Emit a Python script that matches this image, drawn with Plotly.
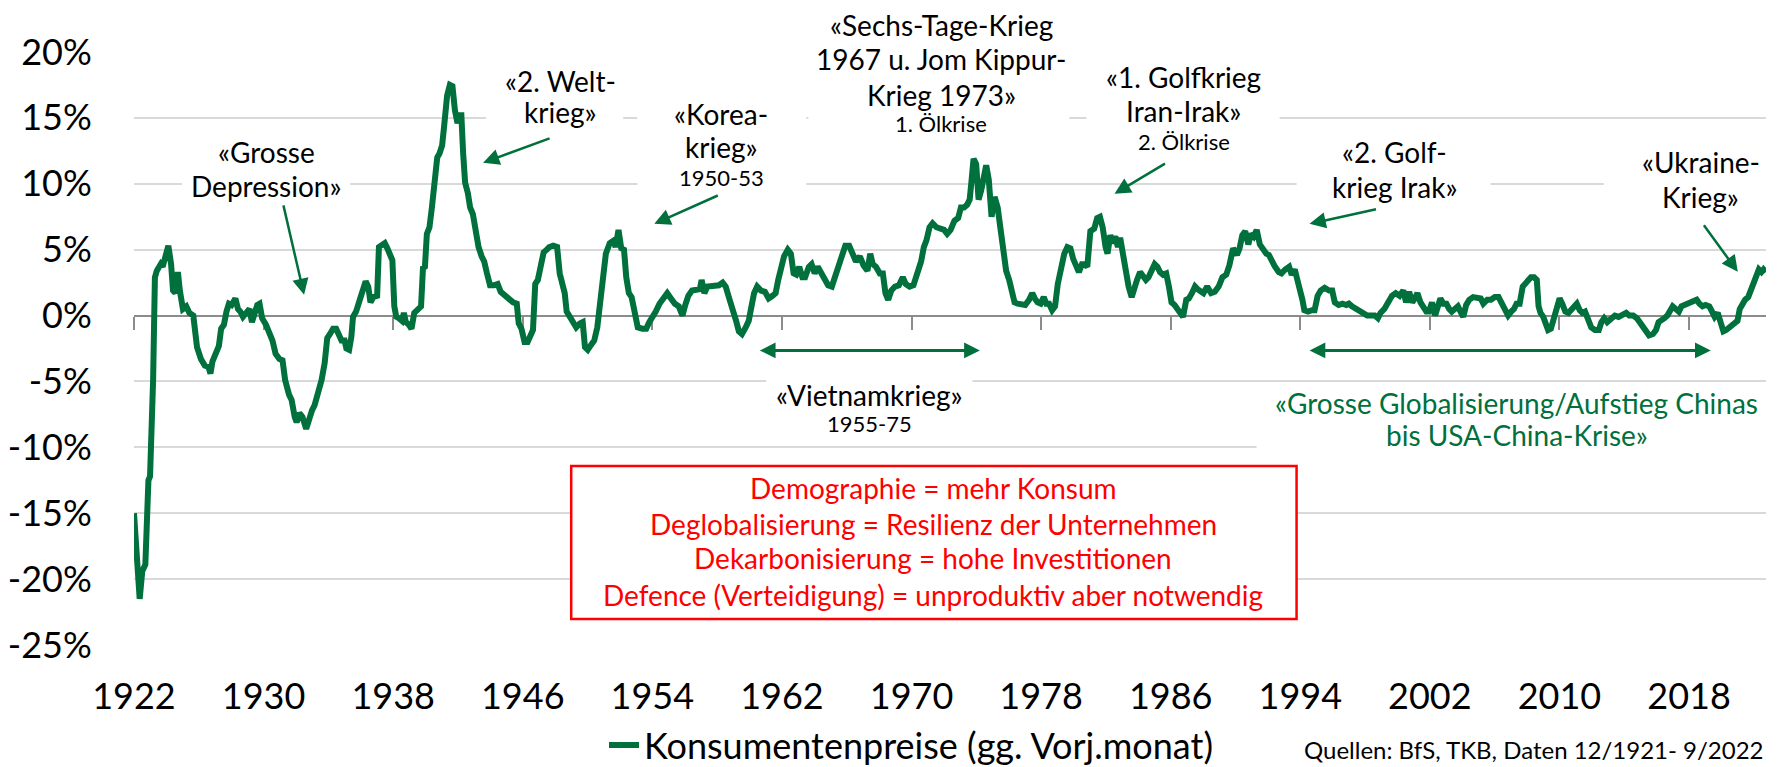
import plotly.graph_objects as go

# Konsumentenpreise Schweiz, Veraenderung gg. Vorjahresmonat in %, 12/1921 - 9/2022
years = [
    1921.92, 1922.27, 1922.43, 1922.62, 1922.81, 1922.91, 1923.10, 1923.21, 1923.33, 1923.57,
    1923.69, 1923.85, 1924.04, 1924.21, 1924.33, 1924.47, 1924.63, 1924.75, 1924.94, 1925.15,
    1925.34, 1925.58, 1925.70, 1925.81, 1926.05, 1926.29, 1926.52, 1926.64, 1926.76, 1927.00,
    1927.16, 1927.30, 1927.47, 1927.63, 1927.78, 1927.94, 1928.18, 1928.34, 1928.49, 1928.65,
    1928.89, 1929.05, 1929.20, 1929.36, 1929.53, 1929.67, 1929.83, 1930.07, 1930.31, 1930.47,
    1930.66, 1930.90, 1931.09, 1931.25, 1931.49, 1931.65, 1931.84, 1931.96, 1932.13, 1932.32,
    1932.55, 1932.74, 1932.91, 1933.07, 1933.26, 1933.50, 1933.69, 1933.85, 1934.02, 1934.21,
    1934.40, 1934.56, 1934.73, 1934.92, 1935.03, 1935.20, 1935.34, 1935.44, 1935.63, 1935.86,
    1936.05, 1936.22, 1936.38, 1936.52, 1936.69, 1936.93, 1937.04, 1937.23, 1937.40, 1937.56,
    1937.71, 1937.87, 1937.99, 1938.11, 1938.27, 1938.46, 1938.58, 1938.70, 1938.89, 1939.05,
    1939.22, 1939.41, 1939.64, 1939.76, 1939.88, 1940.00, 1940.16, 1940.31, 1940.47, 1940.64,
    1940.78, 1940.94, 1941.06, 1941.25, 1941.42, 1941.58, 1941.73, 1941.89, 1942.01, 1942.13,
    1942.24, 1942.36, 1942.53, 1942.67, 1942.84, 1943.00, 1943.19, 1943.38, 1943.54, 1943.71,
    1943.90, 1944.14, 1944.37, 1944.56, 1944.80, 1945.03, 1945.32, 1945.55, 1945.67, 1945.84,
    1946.03, 1946.22, 1946.38, 1946.55, 1946.69, 1946.85, 1947.02, 1947.21, 1947.40, 1947.56,
    1947.80, 1948.04, 1948.20, 1948.34, 1948.51, 1948.63, 1948.86, 1949.05, 1949.22, 1949.45,
    1949.62, 1949.76, 1949.93, 1950.09, 1950.33, 1950.52, 1950.82, 1951.05, 1951.29, 1951.53,
    1951.65, 1951.83, 1952.00, 1952.17, 1952.31, 1952.47, 1952.64, 1952.83, 1953.02, 1953.30,
    1953.54, 1953.73, 1953.89, 1954.13, 1954.36, 1954.60, 1954.84, 1955.07, 1955.31, 1955.55,
    1955.78, 1955.95, 1956.14, 1956.37, 1956.61, 1956.85, 1956.96, 1957.13, 1957.32, 1957.56,
    1957.79, 1958.03, 1958.26, 1958.45, 1958.69, 1958.93, 1959.09, 1959.26, 1959.45, 1959.68,
    1959.87, 1960.04, 1960.20, 1960.39, 1960.63, 1960.87, 1961.10, 1961.34, 1961.53, 1961.69,
    1961.86, 1962.05, 1962.28, 1962.47, 1962.64, 1962.80, 1962.99, 1963.18, 1963.35, 1963.58,
    1963.75, 1963.94, 1964.13, 1964.36, 1964.60, 1964.77, 1965.00, 1965.24, 1965.48, 1965.64,
    1965.83, 1966.07, 1966.26, 1966.49, 1966.73, 1966.96, 1967.20, 1967.37, 1967.53, 1967.72,
    1967.96, 1968.15, 1968.31, 1968.48, 1968.67, 1968.90, 1969.14, 1969.38, 1969.56, 1969.80,
    1970.04, 1970.27, 1970.51, 1970.68, 1970.84, 1971.03, 1971.22, 1971.46, 1971.69, 1971.93,
    1972.12, 1972.33, 1972.57, 1972.80, 1972.97, 1973.16, 1973.35, 1973.51, 1973.63, 1973.75,
    1973.91, 1974.06, 1974.22, 1974.39, 1974.53, 1974.69, 1974.86, 1975.05, 1975.24, 1975.40,
    1975.57, 1975.76, 1975.95, 1976.11, 1976.28, 1976.47, 1976.70, 1976.94, 1977.18, 1977.37,
    1977.53, 1977.70, 1977.89, 1978.08, 1978.24, 1978.41, 1978.60, 1978.78, 1978.95, 1979.19,
    1979.35, 1979.54, 1979.73, 1979.90, 1980.06, 1980.25, 1980.44, 1980.60, 1980.77, 1980.96,
    1981.20, 1981.38, 1981.55, 1981.72, 1981.90, 1982.02, 1982.19, 1982.33, 1982.50, 1982.66,
    1982.80, 1982.97, 1983.13, 1983.32, 1983.51, 1983.68, 1983.84, 1984.03, 1984.22, 1984.39,
    1984.55, 1984.74, 1984.93, 1985.10, 1985.26, 1985.45, 1985.64, 1985.81, 1985.97, 1986.16,
    1986.35, 1986.51, 1986.68, 1986.88, 1987.04, 1987.23, 1987.42, 1987.58, 1987.75, 1987.94,
    1988.17, 1988.41, 1988.64, 1988.88, 1989.11, 1989.35, 1989.54, 1989.77, 1990.01, 1990.17,
    1990.34, 1990.52, 1990.71, 1990.88, 1991.04, 1991.23, 1991.42, 1991.58, 1991.82, 1991.98,
    1992.17, 1992.36, 1992.59, 1992.76, 1992.99, 1993.23, 1993.39, 1993.58, 1993.70, 1993.86,
    1994.05, 1994.17, 1994.40, 1994.64, 1994.80, 1994.99, 1995.18, 1995.42, 1995.70, 1995.89,
    1996.05, 1996.29, 1996.52, 1996.76, 1996.92, 1997.11, 1997.34, 1997.58, 1997.81, 1998.05,
    1998.29, 1998.52, 1998.71, 1998.87, 1999.11, 1999.34, 1999.58, 1999.81, 2000.05, 2000.28,
    2000.45, 2000.64, 2000.83, 2000.99, 2001.15, 2001.34, 2001.53, 2001.70, 2001.86, 2002.05,
    2002.24, 2002.40, 2002.57, 2002.75, 2002.94, 2003.11, 2003.27, 2003.46, 2003.65, 2003.81,
    2003.98, 2004.16, 2004.35, 2004.59, 2004.82, 2005.06, 2005.22, 2005.46, 2005.69, 2005.93,
    2006.16, 2006.40, 2006.56, 2006.75, 2006.94, 2007.11, 2007.27, 2007.46, 2007.65, 2007.81,
    2007.98, 2008.16, 2008.35, 2008.52, 2008.63, 2008.75, 2008.92, 2009.06, 2009.22, 2009.39,
    2009.57, 2009.76, 2009.93, 2010.09, 2010.28, 2010.47, 2010.63, 2010.80, 2010.99, 2011.17,
    2011.34, 2011.50, 2011.69, 2011.88, 2012.11, 2012.35, 2012.51, 2012.68, 2012.87, 2013.10,
    2013.34, 2013.57, 2013.81, 2014.04, 2014.23, 2014.47, 2014.70, 2014.87, 2015.03, 2015.22,
    2015.45, 2015.69, 2015.88, 2016.04, 2016.21, 2016.40, 2016.58, 2016.75, 2016.91, 2017.10,
    2017.29, 2017.45, 2017.69, 2017.92, 2018.16, 2018.39, 2018.56, 2018.75, 2018.94, 2019.17,
    2019.34, 2019.50, 2019.69, 2019.88, 2020.04, 2020.21, 2020.39, 2020.58, 2020.75, 2020.91,
    2021.05, 2021.22, 2021.38, 2021.57, 2021.76, 2021.92, 2022.09, 2022.23, 2022.39, 2022.52,
    2022.67,
]
cpi = [
    -15.0, -21.5, -19.4, -18.9, -12.5, -12.2, -4.9, 2.9, 3.4, 3.9,
    3.7, 4.6, 5.3, 3.9, 1.9, 1.7, 3.3, 1.9, 0.5, 0.7,
    0.2, 0.0, -2.1, -2.4, -3.3, -3.8, -3.9, -4.4, -3.5, -2.8,
    -2.3, -1.0, -0.7, 0.3, 0.9, 0.8, 1.3, 0.5, 0.3, -0.1,
    0.3, 0.5, -0.5, 0.0, 0.8, 0.9, -0.2, -0.7, -1.4, -1.9,
    -2.9, -3.3, -3.4, -4.9, -6.0, -6.4, -7.7, -8.1, -7.4, -7.7,
    -8.6, -7.7, -7.2, -6.8, -6.0, -4.9, -3.6, -1.7, -1.4, -1.0,
    -1.0, -1.5, -1.9, -1.9, -2.5, -2.6, -1.6, -0.1, 0.3, 1.2,
    1.8, 2.6, 2.2, 1.0, 1.4, 1.5, 5.2, 5.3, 5.5, 5.1,
    4.5, 4.2, 0.7, -0.1, -0.2, -0.4, 0.2, -0.5, -0.7, -1.0,
    0.2, 0.4, 0.7, 3.6, 3.7, 6.2, 6.7, 8.2, 9.8, 12.0,
    12.3, 12.9, 14.3, 16.7, 17.5, 17.4, 15.6, 14.6, 15.2, 15.2,
    12.3, 10.1, 9.3, 8.2, 7.7, 6.5, 5.2, 4.5, 4.1, 3.2,
    2.3, 2.3, 2.4, 1.8, 1.5, 1.3, 1.0, 0.9, -0.6, -1.0,
    -2.0, -2.0, -1.6, -1.1, 2.4, 2.7, 3.7, 4.8, 5.0, 5.2,
    5.3, 5.2, 3.2, 2.6, 1.7, 0.3, -0.2, -0.7, -0.9, -0.6,
    -0.5, -2.4, -2.6, -2.3, -1.9, -0.9, 2.9, 4.7, 5.5, 5.7,
    5.2, 6.5, 5.1, 5.0, 2.9, 1.7, 1.4, -0.1, -0.9, -1.0,
    -1.0, -0.5, -0.2, 0.3, 0.9, 1.3, 1.7, 1.3, 0.9, 0.7,
    0.0, 0.8, 1.5, 1.9, 1.9, 2.0, 2.7, 1.7, 2.2, 2.2,
    2.2, 2.3, 2.5, 2.2, 1.2, 0.4, -0.4, -1.2, -1.4, -0.9,
    -0.4, 0.7, 1.7, 2.2, 1.9, 1.8, 1.3, 1.5, 1.7, 2.7,
    3.8, 4.5, 5.0, 4.7, 3.2, 3.1, 3.7, 2.9, 2.9, 3.7,
    3.9, 3.2, 3.7, 3.2, 2.9, 2.3, 2.2, 3.2, 3.8, 4.5,
    5.3, 5.3, 4.7, 4.1, 4.5, 3.8, 3.4, 4.7, 3.9, 3.7,
    3.2, 3.2, 1.7, 1.2, 1.9, 2.2, 2.3, 2.9, 2.4, 2.2,
    2.3, 3.2, 4.1, 5.2, 5.7, 6.7, 7.0, 6.7, 6.6, 6.5,
    6.2, 6.5, 7.2, 7.4, 8.2, 8.2, 8.4, 8.8, 10.3, 11.9,
    11.5, 8.8, 9.5, 10.3, 11.4, 10.3, 7.5, 9.0, 8.2, 6.7,
    5.2, 3.4, 2.7, 1.7, 1.0, 0.9, 0.8, 0.8, 1.2, 1.7,
    1.3, 1.0, 0.9, 1.4, 0.9, 0.9, 0.4, 0.7, 2.4, 3.9,
    4.7, 5.2, 5.1, 4.3, 3.9, 3.3, 3.9, 3.9, 3.7, 6.4,
    6.6, 7.4, 7.5, 6.7, 5.2, 4.7, 6.1, 5.5, 6.0, 5.2,
    5.9, 4.7, 3.2, 2.2, 1.4, 2.2, 2.7, 3.3, 2.9, 2.7,
    2.9, 3.3, 3.9, 3.7, 3.3, 3.1, 3.2, 2.2, 1.0, 0.8,
    0.5, 0.3, -0.1, 1.2, 1.3, 1.7, 2.2, 2.0, 1.9, 1.7,
    2.2, 1.7, 1.8, 2.2, 2.9, 3.1, 3.8, 5.1, 4.6, 5.1,
    6.1, 6.4, 5.4, 6.2, 6.0, 6.5, 5.4, 5.1, 4.7, 4.6,
    4.0, 3.7, 3.3, 3.2, 3.5, 3.7, 3.1, 3.5, 2.9, 2.2,
    1.2, 0.4, 0.3, 0.4, 0.4, 1.5, 1.9, 2.1, 1.9, 1.9,
    1.0, 0.8, 0.9, 0.8, 0.9, 0.7, 0.5, 0.3, 0.2, 0.0,
    0.0, 0.0, -0.2, 0.2, 0.5, 1.0, 1.5, 1.7, 1.5, 1.9,
    1.0, 1.8, 1.0, 1.3, 1.7, 1.0, 0.5, 0.3, 0.3, 1.0,
    0.0, 0.7, 1.3, 0.9, 0.9, 0.5, 0.3, 0.5, 0.7, 0.3,
    -0.1, 0.8, 1.2, 1.4, 1.4, 1.3, 0.9, 1.2, 1.2, 1.4,
    1.4, 0.8, 0.3, 0.0, 0.3, 0.5, 0.9, 0.9, 2.2, 2.4,
    2.7, 2.9, 2.9, 2.7, 0.7, 0.2, -0.1, -0.7, -1.1, -1.0,
    -0.2, 0.5, 1.3, 0.9, 0.3, 0.2, 0.4, 0.7, 0.9, 0.4,
    0.2, 0.3, -0.4, -0.9, -1.1, -1.1, -0.5, -0.2, -0.5, -0.2,
    0.0, -0.1, 0.0, 0.2, 0.0, 0.0, -0.2, -0.5, -0.9, -1.2,
    -1.5, -1.4, -1.1, -0.5, -0.4, -0.2, 0.0, 0.4, 0.7, 0.5,
    0.3, 0.7, 0.8, 0.9, 1.0, 1.2, 0.9, 0.7, 0.8, 0.7,
    0.3, -0.1, 0.2, -0.4, -1.2, -1.1, -0.9, -0.7, -0.6, -0.4,
    0.5, 0.9, 1.2, 1.4, 2.1, 2.7, 3.2, 3.5, 3.3, 3.5,
    3.3,
]

# x-axis: labels every 96 months, starting with 12/1921
tick_pos = [1921.92, 1929.92, 1937.92, 1945.92, 1953.92, 1961.92, 1969.92,
            1977.92, 1985.92, 1993.92, 2001.92, 2009.92, 2017.92]
tick_text = ["1922", "1930", "1938", "1946", "1954", "1962", "1970",
             "1978", "1986", "1994", "2002", "2010", "2018"]
y_ticks = [-25, -20, -15, -10, -5, 0, 5, 10, 15, 20]
y_text = ["-25%", "-20%", "-15%", "-10%", "-5%", "0%", "5%", "10%", "15%", "20%"]

X_RANGE = [1921.92, 2022.67]
Y_RANGE = [-25, 20]

GREEN = "#00703C"
RED = "#FF0000"
FONT = "Lato"

fig = go.Figure()
fig.add_trace(go.Scatter(
    x=years, y=cpi, mode="lines",
    name="Konsumentenpreise (gg. Vorj.monat)",
    line=dict(color=GREEN, width=6),
))
# empty trace so the overlaid zero-line axis gets drawn
fig.add_trace(go.Scatter(x=[], y=[], xaxis="x2", showlegend=False))

# white text boxes that hide the gridlines behind the annotations
boxes = [
    (1924.88, 1935.26, 8.0, 14.1),
    (1943.66, 1952.12, 13.7, 19.4),
    (1952.99, 1963.42, 9.2, 16.8),
    (1963.55, 1979.67, 13.3, 24.0),
    (1980.72, 1992.64, 11.8, 19.4),
    (1993.69, 2005.67, 8.4, 14.1),
    (2012.65, 2023.20, 7.6, 13.3),
    (1960.95, 1973.68, -9.4, -4.1),
    (1991.22, 2023.20, -10.6, -5.3),
]
for x0, x1, y0, y1 in boxes:
    fig.add_shape(type="rect", x0=x0, x1=x1, y0=y0, y1=y1, xref="x", yref="y",
                  fillcolor="white", line=dict(width=0), layer="above")

# red box
fig.add_shape(type="rect", x0=1948.91, x1=1993.69, y0=-23.03, y1=-11.41,
              xref="x", yref="y", fillcolor="white",
              line=dict(color=RED, width=2.5), layer="above")


def label(text, x, y, size=28, color="black", yref="y"):
    fig.add_annotation(x=x, y=y, yref=yref, text=text, showarrow=False,
                       font=dict(family=FONT, size=size, color=color),
                       xanchor="center", yanchor="middle")


def arrow(x, y, ax, ay):
    fig.add_annotation(x=x, y=y, ax=ax, ay=ay, text="", showarrow=True,
                       arrowhead=2, arrowsize=1.3, arrowwidth=2.5,
                       arrowcolor=GREEN, standoff=0)


def span(x0, x1, y):
    fig.add_annotation(x=x1, y=y, ax=x0, ay=y, axref="x", ayref="y", text="",
                       showarrow=True, arrowside="end+start",
                       arrowhead=2, startarrowhead=2,
                       arrowsize=1.05, startarrowsize=1.05, arrowwidth=3,
                       arrowcolor=GREEN, standoff=0, startstandoff=0)


# --- event labels ---
label("«Grosse", 1930.07, 12.39)
label("Depression»", 1930.07, 9.85)
arrow(1932.42, 1.57, -21, -91)

label("«2. Welt-", 1948.23, 17.82)
label("krieg»", 1948.23, 15.47)
arrow(1943.47, 11.59, 68, -25)

label("«Korea-", 1958.17, 15.31)
label("krieg»", 1958.17, 12.81)
label("1950-53", 1958.17, 10.46, size=22)
arrow(1954.04, 6.96, 65, -29)

# first line sits above the plot area -> paper reference
label("«Sechs-Tage-Krieg", 1971.76, 1.046, yref="paper")
label("1967 u. Jom Kippur-", 1971.76, 19.49)
label("Krieg 1973»", 1971.76, 16.75)
label("1. Ölkrise", 1971.76, 14.55, size=22)

label("«1. Golfkrieg", 1986.71, 18.12)
label("Iran-Irak»", 1986.71, 15.54)
label("2. Ölkrise", 1986.71, 13.19, size=22)
arrow(1982.45, 9.24, 52, -31)

label("«2. Golf-", 1999.75, 12.43)
label("krieg Irak»", 1999.75, 9.77)
arrow(1994.49, 6.96, 68, -15)

label("«Ukraine-", 2018.65, 11.67)
label("Krieg»", 2018.65, 9.01)
arrow(2020.93, 3.32, -35, -48)

span(1960.46, 1974.14, -2.65)
label("«Vietnamkrieg»", 1967.32, -6.02)
label("1955-75", 1967.32, -8.22, size=22)

span(1994.40, 2019.26, -2.65)
label("«Grosse Globalisierung/Aufstieg Chinas", 2007.28, -6.63, size=28, color=GREEN)
label("bis USA-China-Krise»", 2007.28, -9.06, size=28, color=GREEN)

# --- red box text ---
label("Demographie = mehr Konsum", 1971.27, -13.08, color=RED)
label("Deglobalisierung = Resilienz der Unternehmen", 1971.27, -15.82, color=RED)
label("Dekarbonisierung = hohe Investitionen", 1971.27, -18.40, color=RED)
label("Defence (Verteidigung) = unproduktiv aber notwendig", 1971.27, -21.21, color=RED)

# source, at the bottom edge
fig.add_annotation(x=1, y=-0.176, xref="paper", yref="paper", xanchor="right",
                   yanchor="middle", showarrow=False,
                   text="Quellen: BfS, TKB, Daten 12/1921- 9/2022",
                   font=dict(family=FONT, size=24, color="black"))

fig.update_layout(
    width=1777, height=767,
    margin=dict(l=134, r=11, t=52, b=122, autoexpand=False),
    paper_bgcolor="white", plot_bgcolor="white",
    font=dict(family=FONT, color="black"),
    showlegend=True,
    legend=dict(orientation="h", x=0.288, xanchor="left", y=-0.169,
                yanchor="middle", font=dict(size=36), bgcolor="rgba(0,0,0,0)"),
    xaxis=dict(range=X_RANGE, tickvals=tick_pos, ticktext=tick_text,
               showgrid=False, zeroline=False, showline=False,
               ticks="outside", ticklen=20, tickcolor="rgba(0,0,0,0)",
               tickfont=dict(size=36)),
    xaxis2=dict(range=X_RANGE, tickvals=tick_pos, overlaying="x",
                anchor="free", position=25 / 45, side="bottom",
                showticklabels=False, showgrid=False, zeroline=False,
                showline=True, linecolor="#8C8C8C", linewidth=2,
                ticks="outside", ticklen=13, tickwidth=2, tickcolor="#8C8C8C",
                layer="below traces"),
    yaxis=dict(range=Y_RANGE, tickvals=y_ticks, ticktext=y_text,
               showgrid=True, gridcolor="#D9D9D9", gridwidth=1.5,
               zeroline=False, showline=False,
               ticks="outside", ticklen=34, tickcolor="rgba(0,0,0,0)",
               tickfont=dict(size=36)),
)

fig.write_html("out.html", config={"displayModeBar": False},
               post_script="document.body.style.margin='0';")
